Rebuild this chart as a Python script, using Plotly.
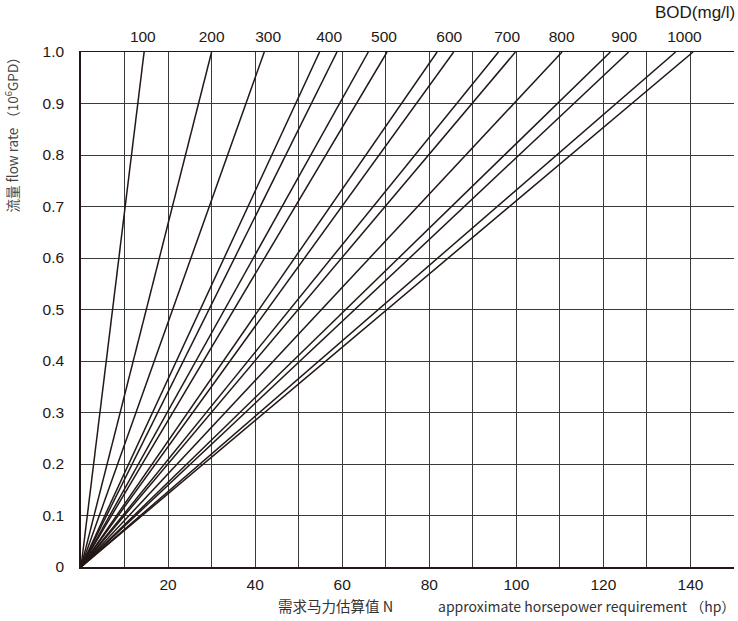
import plotly.graph_objects as go

# BOD (mg/l) curve groups and the horsepower reached at flow = 1.0 (10^6 GPD)
line_bod = ["100", "200", "300", "400", "400", "500", "500", "600", "600",
            "700", "700", "800", "900", "900", "1000", "1000"]
line_hp_at_full_flow = [14.5, 30.0, 42.1, 54.8, 58.8, 66.0, 70.3, 81.8, 85.6,
                        95.9, 99.8, 110.5, 121.6, 125.8, 136.6, 140.6]
flow_start = 0.0
flow_end = 1.0

# top (BOD) labels and where they sit on the horsepower scale
bod_labels = ["100", "200", "300", "400", "500", "600", "700", "800", "900", "1000"]
bod_label_hp = [14.2, 30.0, 43.0, 57.0, 69.6, 84.6, 97.9, 110.4, 124.8, 138.6]

# axis ticks
x_tick_vals = [0, 10, 20, 30, 40, 50, 60, 70, 80, 90, 100, 110, 120, 130, 140, 150]
x_tick_text = ["", "", "20", "", "40", "", "60", "", "80", "", "100", "", "120", "", "140", ""]
y_tick_vals = [0, 0.1, 0.2, 0.3, 0.4, 0.5, 0.6, 0.7, 0.8, 0.9, 1.0]
y_tick_text = ["0", "0.1", "0.2", "0.3", "0.4", "0.5", "0.6", "0.7", "0.8", "0.9", "1.0"]

INK = "#231815"
GRID = "#3a3a3a"
FONT = "Liberation Sans, Arial, Noto Sans CJK SC"

fig = go.Figure()
for bod, hp in zip(line_bod, line_hp_at_full_flow):
    fig.add_trace(go.Scatter(
        x=[0, hp], y=[flow_start, flow_end], mode="lines",
        line=dict(color=INK, width=1.5), name=bod, showlegend=False,
        hoverinfo="skip"))

# invisible trace to activate the top axis
fig.add_trace(go.Scatter(x=[0], y=[0], xaxis="x2", mode="markers",
                         marker=dict(opacity=0), showlegend=False, hoverinfo="skip"))

fig.update_layout(
    width=738, height=621,
    margin=dict(l=81, r=4, t=52, b=54),
    paper_bgcolor="white", plot_bgcolor="white",
    font=dict(family=FONT, size=15.5, color="#231815"),
    xaxis=dict(range=[0, 150], tickvals=x_tick_vals, ticktext=x_tick_text,
               showgrid=True, gridcolor=GRID, gridwidth=1,
               zeroline=False, showline=True, linecolor=INK, linewidth=1.5,
               ticks="", ticklabelstandoff=3, mirror=False, automargin=False),
    xaxis2=dict(range=[0, 150], overlaying="x", side="top",
                tickvals=bod_label_hp, ticktext=bod_labels,
                showgrid=False, zeroline=False, showline=True,
                linecolor=INK, linewidth=1.2, ticks="", ticklabelstandoff=3,
                automargin=False),
    yaxis=dict(range=[0, 1.0], tickvals=y_tick_vals, ticktext=y_tick_text,
               showgrid=True, gridcolor=GRID, gridwidth=1,
               zeroline=False, showline=True, linecolor=INK, linewidth=1.5,
               ticks="", ticklabelstandoff=12, automargin=False),
)

fig.add_annotation(
    text="流量 flow rate （10<sup>6</sup>GPD）", textangle=-90,
    xref="paper", yref="paper", x=-0.106, y=0.845,
    xanchor="center", yanchor="middle", showarrow=False,
    font=dict(family="Noto Sans CJK SC, Liberation Sans", size=13.5, color="#444"))
fig.add_annotation(
    text="需求马力估算值 N",
    xref="paper", yref="paper", x=(395 - 81) / 653, y=-0.0757,
    xanchor="right", yanchor="middle", showarrow=False,
    font=dict(family="Noto Sans CJK SC, Noto Sans", size=14.5, color="#333"))
fig.add_annotation(
    text="approximate horsepower requirement （hp）",
    xref="paper", yref="paper", x=1.005, y=-0.0757,
    xanchor="right", yanchor="middle", showarrow=False,
    font=dict(family="Noto Sans CJK SC, Noto Sans", size=14, color="#333"))
fig.add_annotation(
    text="BOD(mg/l)", xref="paper", yref="paper", x=1.005, y=1.076,
    xanchor="right", yanchor="middle", showarrow=False,
    font=dict(family=FONT, size=17, color="#231815"))

fig.write_html("out.html", config={"displayModeBar": False},
               post_script="document.body.style.margin='0';")
